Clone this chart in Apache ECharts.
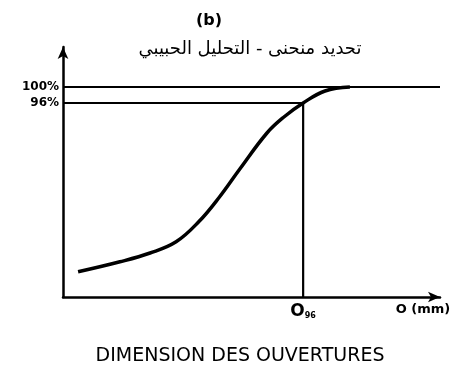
<!DOCTYPE html>
<html>
<head>
<meta charset="utf-8">
<script src="https://cdn.jsdelivr.net/npm/echarts@6/dist/echarts.min.js"></script>
<style>
  html, body { margin: 0; padding: 0; background: #fff; }
  #chart { width: 472px; height: 375px; }
</style>
</head>
<body>
<div id="chart"></div>
<script>
// Grading curve: opening size (schematic units) vs. cumulative passing (%)
const openings = [4.0, 15.1, 23.1, 30.0, 36.0, 41.5, 46.9, 54.1, 58.6, 63.7, 69.5, 76.1];
const passing  = [53.8, 56.3, 58.5, 61.3, 66.3, 72.5, 79.5, 88.5, 92.5, 96.0, 99.0, 100.0];

// Marked levels and the D96 opening
const yTicks = [96, 100];
const d96 = 63.7;
const xLabelPos = [63.7, 95.5];
const xLabelText = ['{o|O}{s|96}', 'O (mm)'];

const ink = '#000';
const curve = openings.map((x, i) => [x, passing[i]]);
const xMin = 0, xMax = 100, yMin = 47.5, yMax = 110;

const chart = echarts.init(document.getElementById('chart'));
chart.setOption({
  animation: false,
  backgroundColor: '#fff',
  title: [
    { text: '(b)', left: 204, top: 8, textAlign: 'center',
      textStyle: { fontFamily: 'DejaVu Sans', fontSize: 16, fontWeight: 'bold', color: ink } },
    { text: 'تحديد منحنى - التحليل الحبيبي', left: 245, top: 35, textAlign: 'center',
      textStyle: { fontFamily: 'DejaVu Sans', fontSize: 18, fontWeight: 'normal', color: ink } },
    { text: 'DIMENSION DES OUVERTURES', left: 235, top: 342, textAlign: 'center',
      textStyle: { fontFamily: 'DejaVu Sans', fontSize: 19, fontWeight: 'normal', color: ink } }
  ],
  grid: { left: 63, top: 47, width: 377, height: 250 },
  xAxis: {
    type: 'value', min: xMin, max: xMax,
    splitLine: { show: false },
    axisTick: { show: false },
    axisLine: { onZero: false, symbol: ['none', 'arrow'], symbolSize: [8, 12],
      lineStyle: { color: ink, width: 2.5 } },
    axisLabel: {
      customValues: xLabelPos,
      margin: 6,
      formatter: (v) => xLabelText[xLabelPos.indexOf(v)],
      color: ink, fontFamily: 'DejaVu Sans', fontSize: 13, fontWeight: 'bold',
      rich: {
        o: { fontFamily: 'DejaVu Sans', fontSize: 17, fontWeight: 'bold', color: ink },
        s: { fontFamily: 'DejaVu Sans', fontSize: 8, fontWeight: 'bold', color: ink, verticalAlign: 'bottom', padding: [8, 0, 0, 0] }
      }
    }
  },
  yAxis: {
    type: 'value', min: yMin, max: yMax,
    splitLine: { show: false },
    axisTick: { show: false },
    axisLine: { onZero: false, symbol: ['none', 'arrow'], symbolSize: [8, 12],
      lineStyle: { color: ink, width: 2.5 } },
    axisLabel: {
      customValues: yTicks,
      margin: 4,
      formatter: (v) => v + '%',
      color: ink, fontFamily: 'DejaVu Sans', fontSize: 12, fontWeight: 'bold'
    }
  },
  series: [
    { type: 'line', data: curve, smooth: 0.4, symbol: 'none',
      lineStyle: { color: ink, width: 3.5 } },
    { type: 'line', data: [[xMin, 100], [xMax, 100]], symbol: 'none',
      lineStyle: { color: ink, width: 2.2 } },
    { type: 'line', data: [[xMin, 96], [d96, 96], [d96, yMin]], symbol: 'none',
      lineStyle: { color: ink, width: 2.2 } }
  ]
});
</script>
</body>
</html>
